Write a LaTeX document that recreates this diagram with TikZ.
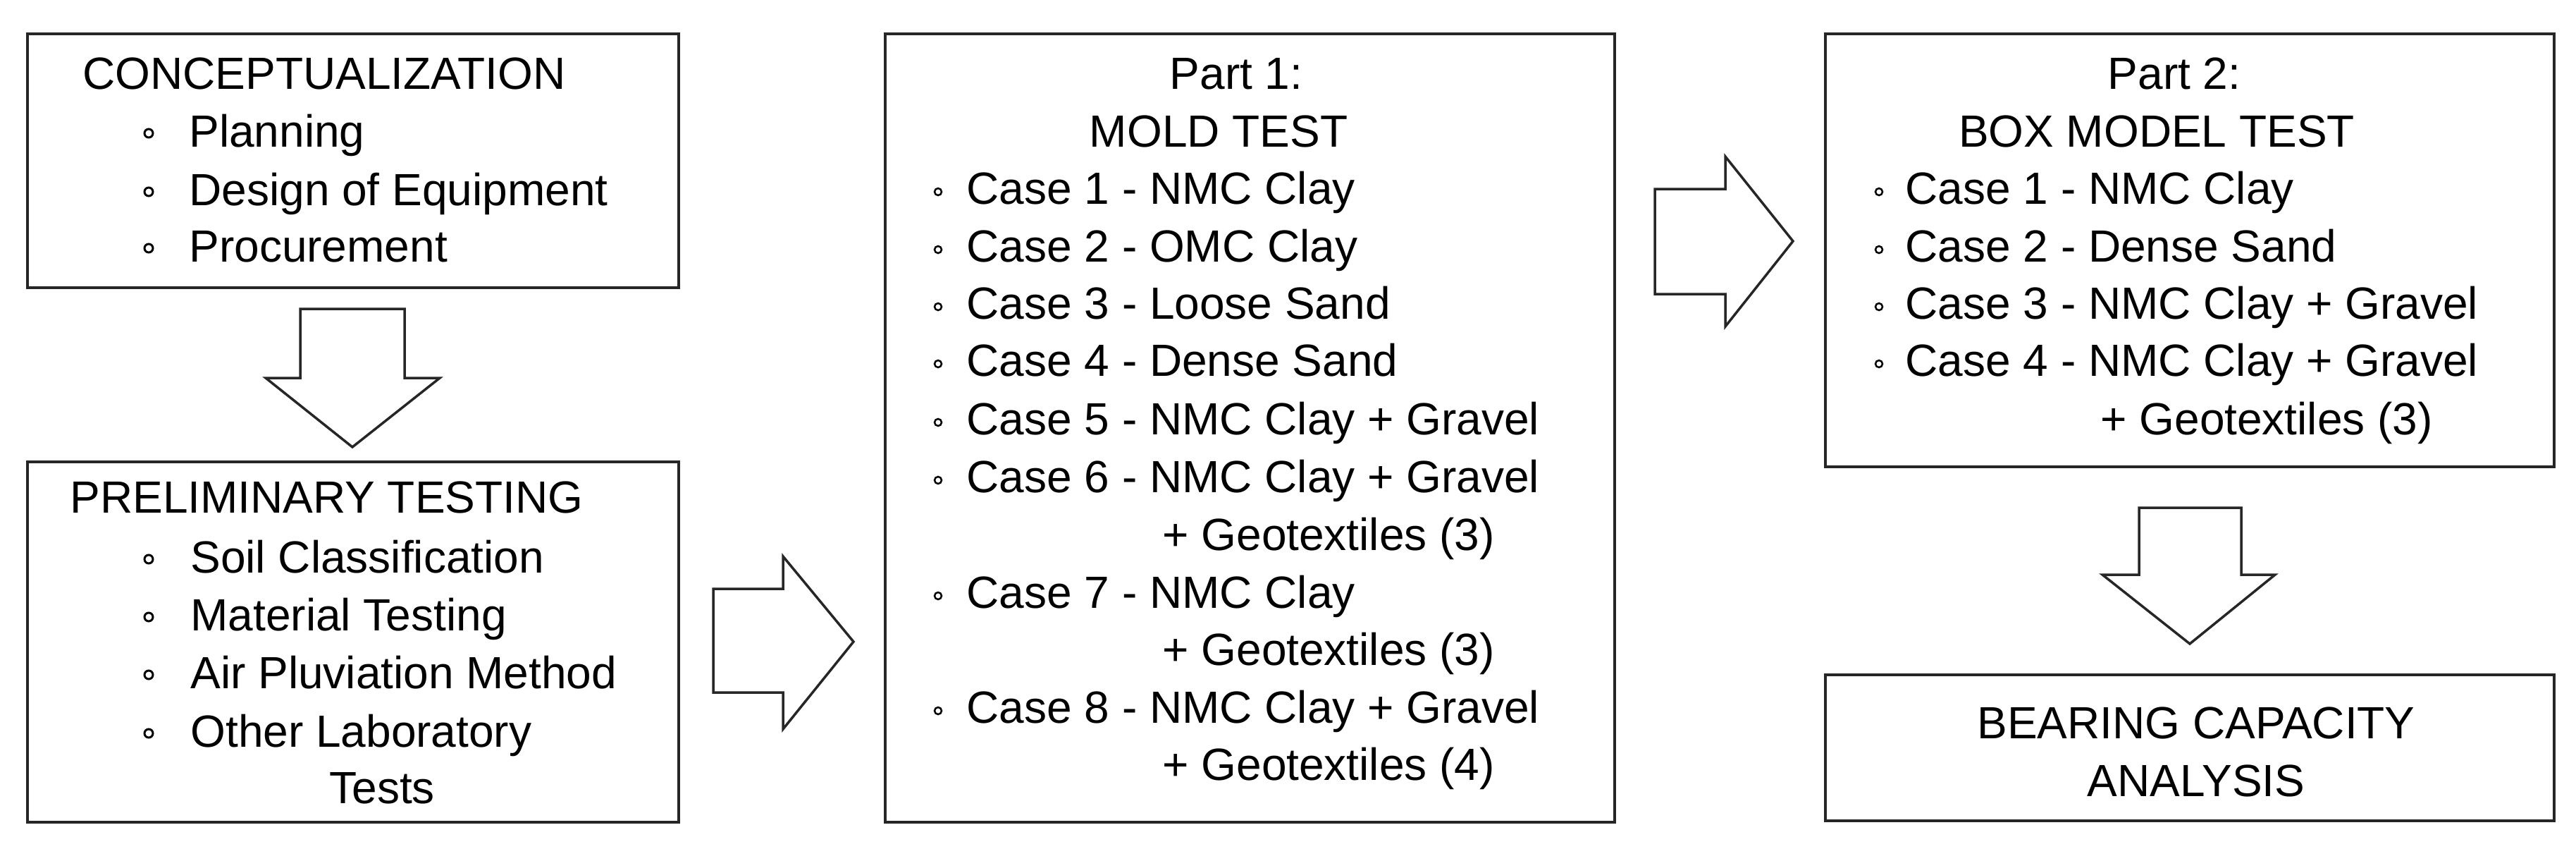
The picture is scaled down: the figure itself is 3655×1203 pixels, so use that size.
\documentclass[tikz,border=0pt]{standalone}
\usepackage{fontspec}
\setmainfont{Liberation Sans}
\begin{document}
\begin{tikzpicture}[x=1pt,y=-1pt,line width=3pt,
  box/.style={draw=black!85,line width=3.5pt},
  txt/.style={anchor=base west,inner sep=0pt,font=\fontsize{64}{77}\selectfont},
  ctxt/.style={anchor=base,inner sep=0pt,font=\fontsize{64}{77}\selectfont},
  bul/.style={draw=black,line width=3pt},
  blk/.style={draw=black!85,line width=3.5pt,line join=miter,fill=white}]
\useasboundingbox (0,0) rectangle (3655,1203);
% boxes
\draw[box] (39,48) rectangle (963,408);
\draw[box] (39,655) rectangle (963,1166);
\draw[box] (1256,48) rectangle (2291,1166);
\draw[box] (2590,48) rectangle (3624,662);
\draw[box] (2590,957) rectangle (3624,1164);
% block arrows
\draw[blk] (426,438) -- (574,438) -- (574,536) -- (624,536) -- (500,634) -- (377,536) -- (426,536) -- cycle;
\draw[blk] (1012,835) -- (1111,835) -- (1111,789) -- (1211,910) -- (1111,1034) -- (1111,982) -- (1012,982) -- cycle;
\draw[blk] (2348,268) -- (2448,268) -- (2448,222) -- (2544,342) -- (2448,463) -- (2448,417) -- (2348,417) -- cycle;
\draw[blk] (3035,720) -- (3180,720) -- (3180,815) -- (3228,815) -- (3107,913) -- (2983,815) -- (3035,815) -- cycle;
% box 1
\node[txt] (c0) at (116,126) {CONCEPTUALIZATION};
\foreach \t/\y [count=\i] in {Planning/208,Design of Equipment/291,Procurement/371}{
  \draw[bul] (211,\y-19) circle (6);
  \node[txt] (c\i) at (267,\y) {\t};
}
% box 2
\node[txt] (p0) at (98,727) {PRELIMINARY TESTING};
\foreach \t/\y [count=\i] in {Soil Classification/812,Material Testing/894,Air Pluviation Method/976,Other Laboratory/1059}{
  \draw[bul] (211,\y-19) circle (6);
  \node[txt] (p\i) at (269,\y) {\t};
}
\node[txt] (p5) at (466,1139) {Tests};
% box 3
\node[ctxt] (m0) at (1754,126) {Part 1:};
\node[ctxt] (m00) at (1729,208) {MOLD TEST};
\foreach \t/\y [count=\i] in {Case 1 - NMC Clay/289,Case 2 - OMC Clay/371,Case 3 - Loose Sand/452,Case 4 - Dense Sand/533,Case 5 - NMC Clay + Gravel/616,Case 6 - NMC Clay + Gravel/698,Case 7 - NMC Clay/862,Case 8 - NMC Clay + Gravel/1025}{
  \draw[bul,line width=2.5pt] (1331,\y-17) circle (5);
  \node[txt] (m\i) at (1370,\y) {\t};
}
\node[txt] (m9) at (1648,780) {+ Geotextiles (3)};
\node[txt] (m10) at (1648,943) {+ Geotextiles (3)};
\node[txt] (m11) at (1648,1106) {+ Geotextiles (4)};
% box 4
\node[ctxt] (b0) at (3085,126) {Part 2:};
\node[ctxt] (b00) at (3060,208) {BOX MODEL TEST};
\foreach \t/\y [count=\i] in {Case 1 - NMC Clay/289,Case 2 - Dense Sand/371,Case 3 - NMC Clay + Gravel/452,Case 4 - NMC Clay + Gravel/533}{
  \draw[bul,line width=2.5pt] (2666,\y-17) circle (5);
  \node[txt] (b\i) at (2702,\y) {\t};
}
\node[txt] (b5) at (2979,616) {+ Geotextiles (3)};
% box 5
\node[ctxt] (e1) at (3116,1047) {BEARING CAPACITY};
\node[ctxt] (e2) at (3116,1129) {ANALYSIS};
\end{tikzpicture}
\end{document}
